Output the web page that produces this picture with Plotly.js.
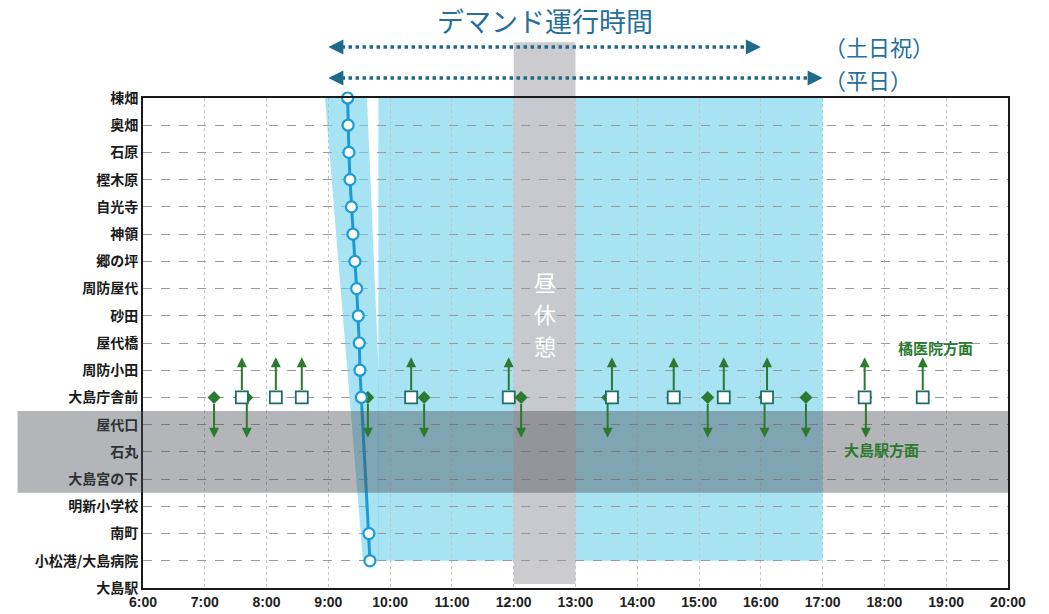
<!DOCTYPE html>
<html><head><meta charset="utf-8">
<script src="https://cdn.plot.ly/plotly-3.0.1.min.js"></script>
<style>html,body{margin:0;padding:0;background:#fff}</style>
</head><body><div id="chart" style="width:1049px;height:614px"></div>
<script>
// ---- data ----
const stops = ['棟畑','奥畑','石原','樫木原','自光寺','神領','郷の坪','周防屋代','砂田','屋代橋','周防小田','大島庁舎前','屋代口','石丸','大島宮の下','明新小学校','南町','小松港/大島病院','大島駅'];
const hourTicks = [6,7,8,9,10,11,12,13,14,15,16,17,18,19,20];
const hourLabels = ['6:00','7:00','8:00','9:00','10:00','11:00','12:00','13:00','14:00','15:00','16:00','17:00','18:00','19:00','20:00'];

// demand route (time in hours, stop index)
const routeStops = [0,1,2,3,4,5,6,7,8,9,10,11,16,17];
const routeTimes = [9.312,9.320,9.333,9.350,9.374,9.398,9.430,9.458,9.484,9.500,9.511,9.534,9.657,9.673];

// flexible zone wedge near route
const wedgeTimes = [8.945,9.625,9.820,9.820,9.560];
const wedgeStops = [0,0,10.4,17,17];

// demand operating window
const demandZoneStart = 9.81, demandZoneEnd = 17.0;
const demandZoneTopStop = 0, demandZoneBottomStop = 17;
const weekendSpan = [9.0, 16.0];   // 土日祝
const weekdaySpan = [9.0, 17.0];   // 平日
const lunchSpan = [12.0, 13.0];    // 昼休憩
const lunchChars = ['昼','休','憩'];
const excludedStops = [12, 14];    // 屋代口〜大島宮の下

// connecting buses at 大島庁舎前
const transferStop = '大島庁舎前';
const upTimes = [7.60,8.15,8.57,10.34,11.92,13.59,14.59,15.40,16.10,17.68,18.62];   // 橘医院方面
const downTimes = [7.15,7.68,9.64,10.55,12.12,13.52,15.14,16.06,16.73,17.70];       // 大島駅方面

// ---- styles ----
const CJK = 'Noto Sans CJK JP, Noto Sans, sans-serif';
const blueLine = '#1b9ad6';
const titleBlue = '#266f9c';
const arrowTeal = '#1f6a8a';
const green = '#2b7a30';
const teal = '#1d6e66';
const tIdx = stops.indexOf(transferStop);
const nGaps = stops.length - 1;
const stopToPaper = i => 1 - i / nGaps;

const traces = [
  { x: wedgeTimes, y: wedgeStops, mode: 'lines', fill: 'toself', fillcolor: 'rgba(110,208,236,0.6)',
    line: {width: 0}, hoverinfo: 'skip', showlegend: false },
  { x: downTimes, y: downTimes.map(() => tIdx), mode: 'markers', cliponaxis: false,
    marker: {symbol: 'diamond', size: 10, color: green}, showlegend: false },
  { x: upTimes, y: upTimes.map(() => tIdx), mode: 'markers', cliponaxis: false,
    marker: {symbol: 'square', size: 12, color: 'white', line: {color: teal, width: 1.8}}, showlegend: false },
  { x: routeTimes, y: routeStops, mode: 'lines+markers', cliponaxis: false,
    line: {color: blueLine, width: 3},
    marker: {symbol: 'circle', size: 11, color: 'white', line: {color: blueLine, width: 2.2}}, showlegend: false }
];

const shapes = [
  { type: 'rect', layer: 'below', xref: 'x', yref: 'paper', x0: demandZoneStart, x1: demandZoneEnd,
    y0: stopToPaper(demandZoneTopStop), y1: stopToPaper(demandZoneBottomStop),
    fillcolor: 'rgba(110,208,236,0.6)', line: {width: 0} },
  { type: 'rect', layer: 'below', xref: 'x', yref: 'paper', x0: lunchSpan[0], x1: lunchSpan[1],
    y0: 0.008, y1: 1.114, fillcolor: 'rgba(200,200,202,0.93)', line: {width: 0} },
  { type: 'rect', layer: 'above', xref: 'paper', yref: 'y', x0: -0.145, x1: 1,
    y0: excludedStops[0] - 0.5, y1: excludedStops[1] + 0.5, fillcolor: 'rgba(75,78,85,0.42)', line: {width: 0} },
  { type: 'line', xref: 'x', yref: 'paper', x0: weekendSpan[0] + 0.1, x1: weekendSpan[1] - 0.1,
    y0: 1.104, y1: 1.104, line: {color: arrowTeal, width: 3.5, dash: 'dot'} },
  { type: 'line', xref: 'x', yref: 'paper', x0: weekdaySpan[0] + 0.1, x1: weekdaySpan[1] - 0.1,
    y0: 1.041, y1: 1.041, line: {color: arrowTeal, width: 3.5, dash: 'dot'} }
];

const annotations = [];
function headAnn(x, y, dir) {
  return { x: x, y: y, xref: 'x', yref: 'paper', text: '', showarrow: true, arrowhead: 2,
    arrowsize: 1, arrowwidth: 3, arrowcolor: arrowTeal, ax: dir * 12, ay: 0 };
}
annotations.push(headAnn(weekendSpan[0], 1.104, 1), headAnn(weekendSpan[1], 1.104, -1));
annotations.push(headAnn(weekdaySpan[0], 1.041, 1), headAnn(weekdaySpan[1], 1.041, -1));

upTimes.forEach(t => annotations.push({ x: t, y: tIdx - 1.48, ax: t, ay: tIdx, xref: 'x', yref: 'y',
  axref: 'x', ayref: 'y', text: '', showarrow: true, arrowhead: 2, arrowsize: 1, arrowwidth: 2,
  arrowcolor: green, startstandoff: 6 }));
downTimes.forEach(t => annotations.push({ x: t, y: tIdx + 1.48, ax: t, ay: tIdx, xref: 'x', yref: 'y',
  axref: 'x', ayref: 'y', text: '', showarrow: true, arrowhead: 2, arrowsize: 1, arrowwidth: 2,
  arrowcolor: green, startstandoff: 5 }));

annotations.push(
  { x: 12.5, y: 1.159, xref: 'x', yref: 'paper', yanchor: 'middle', text: 'デマンド運行時間', showarrow: false,
    font: {family: CJK, size: 27, color: titleBlue} },
  { x: 0.785, y: 1.106, xref: 'paper', yref: 'paper', xanchor: 'left', yanchor: 'middle', text: '（土日祝）', showarrow: false,
    font: {family: CJK, size: 22, color: titleBlue} },
  { x: 0.785, y: 1.039, xref: 'paper', yref: 'paper', xanchor: 'left', yanchor: 'middle', text: '（平日）', showarrow: false,
    font: {family: CJK, size: 22, color: titleBlue} },
  { x: 18.82, y: 9.15, xref: 'x', yref: 'y', yanchor: 'middle', text: '<b>橘医院方面</b>', showarrow: false,
    font: {family: CJK, size: 15, color: green} },
  { x: 17.95, y: 12.9, xref: 'x', yref: 'y', yanchor: 'middle', text: '<b>大島駅方面</b>', showarrow: false,
    font: {family: CJK, size: 15, color: green} }
);
lunchChars.forEach((c, i) => annotations.push({ x: 12.5, y: 0.626 - i * 0.065, xref: 'x', yref: 'paper',
  yanchor: 'middle', text: c, showarrow: false, font: {family: CJK, size: 22, color: 'white'} }));

const layout = {
  width: 1049, height: 614,
  margin: {l: 143, r: 41, t: 98, b: 26},
  paper_bgcolor: 'white', plot_bgcolor: 'white',
  showlegend: false,
  xaxis: {
    range: [6, 20], tickmode: 'array', tickvals: hourTicks, ticktext: hourLabels,
    showgrid: true, gridcolor: '#c4c4c4', griddash: 'dot', gridwidth: 1,
    showline: true, linecolor: '#1a1a1a', linewidth: 2, mirror: true, zeroline: false,
    ticks: '', tickfont: {family: 'Liberation Sans Narrow, Liberation Sans, sans-serif', size: 14, color: '#222', weight: 'bold'}
  },
  yaxis: {
    range: [18, 0], tickmode: 'array', tickvals: stops.map((s, i) => i), ticktext: stops,
    showgrid: true, gridcolor: '#9a9a9a', griddash: 'dash', gridwidth: 1,
    showline: true, linecolor: '#1a1a1a', linewidth: 2, mirror: true, zeroline: false,
    ticks: '', tickfont: {family: CJK, size: 14, color: '#1a1a1a', weight: 'bold'}
  },
  shapes: shapes,
  annotations: annotations
};

Plotly.newPlot('chart', traces, layout, {displayModeBar: false, staticPlot: true});
</script>
</body></html>
